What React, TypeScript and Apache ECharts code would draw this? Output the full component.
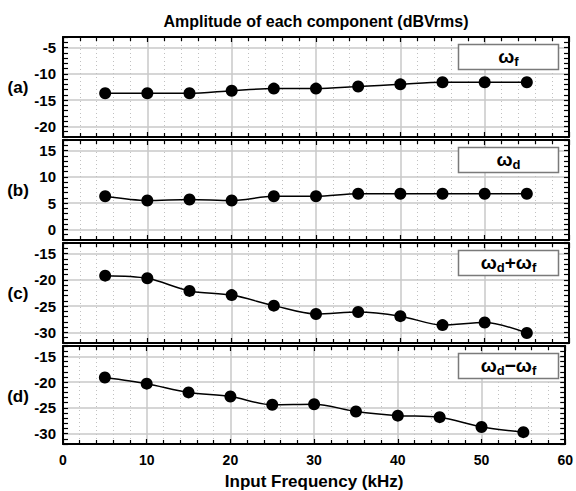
import React, { useEffect, useRef } from "react";
import * as echarts from "echarts";

const freq = [5, 10, 15, 20, 25, 30, 35, 40, 45, 50, 55];
const ampF = [-13.7, -13.7, -13.7, -13.2, -12.8, -12.8, -12.4, -12.0, -11.6, -11.6, -11.6];
const ampD = [6.3, 5.5, 5.7, 5.5, 6.3, 6.3, 6.8, 6.8, 6.8, 6.8, 6.8];
const ampSum = [-19.2, -19.7, -22.1, -22.9, -24.9, -26.5, -26.1, -26.9, -28.6, -28.1, -30.1];
const ampDiff = [-19.1, -20.3, -22.0, -22.8, -24.4, -24.3, -25.7, -26.5, -26.8, -28.7, -29.7];
const panelMins = [-22, -2, -32, -32];
const panelMaxs = [-3, 17, -13, -13];
const panelTags = ["(a)", "(b)", "(c)", "(d)"];
// [text, isSubscript]
const legendPieces: [string, boolean][][] = [
  [["ω", false], ["f", true]],
  [["ω", false], ["d", true]],
  [["ω", false], ["d", true], ["+ω", false], ["f", true]],
  [["ω", false], ["d", true], ["−ω", false], ["f", true]],
];
const titleText = "Amplitude of each component (dBVrms)";
const xName = "Input Frequency (kHz)";

const FONT = "'Liberation Sans', Arial, sans-serif";
const GRID_TOPS = [37, 140, 243, 346];
const GRID_H = 100;
const LEFT = 63;
const WIDTH = 506;
const MAIN_FONT = `bold 19px ${FONT}`;
const SUB_FONT = `bold 13px ${FONT}`;

function measure(text: string, font: string): number {
  const c = document.createElement("canvas").getContext("2d");
  if (!c) return text.length * 10;
  c.font = font;
  return c.measureText(text).width;
}

export default function App() {
  const ref = useRef<HTMLDivElement>(null);
  useEffect(() => {
    if (!ref.current) return;
    const chart = echarts.init(ref.current, null, { renderer: "svg" });
    const seriesData = [ampF, ampD, ampSum, ampDiff];
    const grids: any[] = [];
    const xAxes: any[] = [];
    const yAxes: any[] = [];
    const series: any[] = [];
    const graphics: any[] = [];
    const clear = "rgba(0,0,0,0)";
    for (let i = 0; i < 4; i++) {
      grids.push({ left: LEFT, top: GRID_TOPS[i], width: WIDTH, height: GRID_H, show: false });
      const isLast = i === 3;
      xAxes.push({
        type: "value",
        gridIndex: i,
        position: "bottom",
        min: 0,
        max: 60,
        interval: 10,
        axisLine: { show: true, onZero: false, lineStyle: { color: "#000", width: 2 } },
        axisTick: { show: true, inside: true, length: 5, lineStyle: { color: "#000", width: 1.2 } },
        minorTick: { show: true, splitNumber: 5, length: 4, lineStyle: { color: "#000", width: 1.2 } },
        axisLabel: {
          show: isLast,
          color: "#000",
          fontFamily: FONT,
          fontWeight: "bold",
          fontSize: 14,
          margin: 9,
        },
        splitLine: { show: true, lineStyle: { color: "#c8c8c8", width: 1.5 } },
        minorSplitLine: { show: true, lineStyle: { color: "#c0c0c0", width: 1, type: [1, 3] } },
        name: isLast ? xName : "",
        nameLocation: "middle",
        nameGap: 29,
        nameTextStyle: { color: "#000", fontFamily: FONT, fontWeight: "bold", fontSize: 17 },
      });
      xAxes.push({
        type: "value",
        gridIndex: i,
        position: "top",
        min: 0,
        max: 60,
        interval: 10,
        axisLine: { show: true, onZero: false, lineStyle: { color: "#000", width: 2 } },
        axisTick: { show: true, inside: true, length: 5, lineStyle: { color: "#000", width: 1.2 } },
        minorTick: { show: true, splitNumber: 5, length: 4, lineStyle: { color: "#000", width: 1.2 } },
        axisLabel: { show: false },
        splitLine: { show: false },
      });
      const mn = panelMins[i];
      const colors: string[] = [];
      for (let k = 0; k < 5; k++) colors.push((((mn + k) % 5) + 5) % 5 === 0 ? "#c8c8c8" : clear);
      yAxes.push({
        type: "value",
        gridIndex: i,
        position: "left",
        min: mn,
        max: panelMaxs[i],
        interval: 1,
        axisLine: { show: true, onZero: false, lineStyle: { color: "#000", width: 2 } },
        axisTick: { show: true, inside: true, length: 5, lineStyle: { color: "#000", width: 1.2 } },
        axisLabel: {
          color: "#000",
          fontFamily: FONT,
          fontWeight: "bold",
          fontSize: 15,
          margin: 7,
          formatter: (v: number) => (Math.round(v) % 5 === 0 ? String(Math.round(v)) : ""),
        },
        splitLine: { show: true, lineStyle: { color: colors, width: 1.5 } },
      });
      yAxes.push({
        type: "value",
        gridIndex: i,
        position: "right",
        min: mn,
        max: panelMaxs[i],
        interval: 1,
        axisLine: { show: true, onZero: false, lineStyle: { color: "#000", width: 2 } },
        axisTick: { show: true, inside: true, length: 5, lineStyle: { color: "#000", width: 1.2 } },
        axisLabel: { show: false },
        splitLine: { show: false },
      });
      series.push({
        type: "line",
        xAxisIndex: 2 * i,
        yAxisIndex: 2 * i,
        data: freq.map((f, j) => [f, seriesData[i][j]]),
        smooth: 0.3,
        symbol: "circle",
        symbolSize: 12,
        itemStyle: { color: "#000" },
        lineStyle: { color: "#000", width: 1.5 },
        z: 5,
      });
      const top = GRID_TOPS[i];
      graphics.push({
        type: "text",
        x: 18,
        y: top + GRID_H / 2,
        style: {
          text: panelTags[i],
          fill: "#000",
          font: `bold 17px ${FONT}`,
          align: "center",
          verticalAlign: "middle",
        },
      });
      graphics.push({
        type: "rect",
        shape: { x: 458.5, y: top + 7.5, width: 100, height: 25 },
        style: { fill: "#fff", stroke: "#7a7a7a", lineWidth: 1.5 },
        z: 10,
      });
      const pieces = legendPieces[i];
      const widths = pieces.map(([t, sub]) => measure(t, sub ? SUB_FONT : MAIN_FONT));
      const total = widths.reduce((a, b) => a + b, 0);
      let cx = 508.5 - total / 2;
      const cy = top + 20;
      pieces.forEach(([t, sub], k) => {
        graphics.push({
          type: "text",
          x: cx,
          y: sub ? cy + 4 : cy - 1,
          z: 11,
          style: {
            text: t,
            fill: "#000",
            font: sub ? SUB_FONT : MAIN_FONT,
            align: "left",
            verticalAlign: "middle",
          },
        });
        cx += widths[k];
      });
    }
    chart.setOption({
      animation: false,
      backgroundColor: "#fff",
      title: {
        text: titleText,
        left: 311,
        textAlign: "center",
        top: 8,
        textStyle: { color: "#000", fontFamily: FONT, fontWeight: "bold", fontSize: 16 },
      },
      grid: grids,
      xAxis: xAxes,
      yAxis: yAxes,
      series,
      graphic: graphics,
    });
    return () => chart.dispose();
  }, []);
  return <div ref={ref} style={{ position: "fixed", left: 0, top: 0, width: 576, height: 491 }} />;
}
